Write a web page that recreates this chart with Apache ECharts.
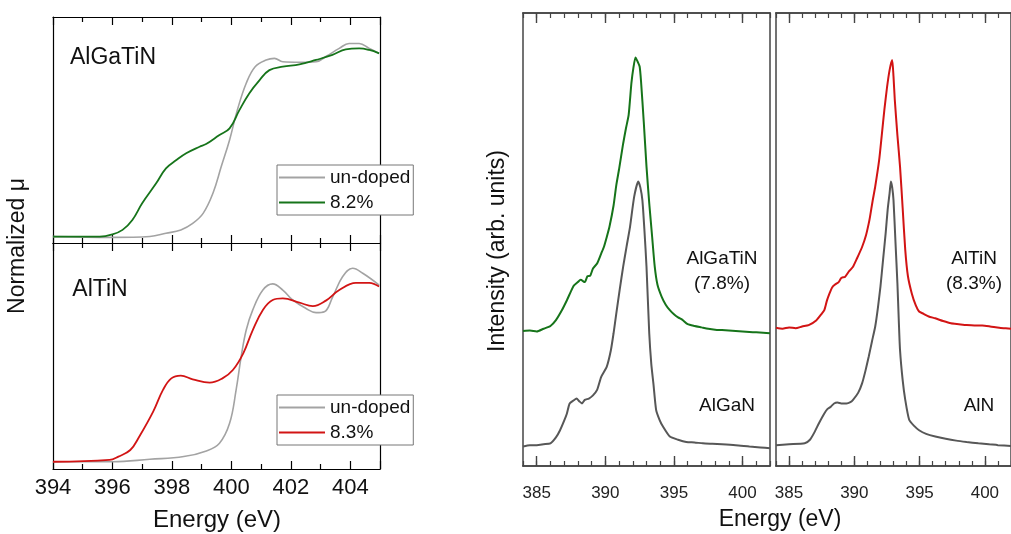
<!DOCTYPE html>
<html>
<head>
<meta charset="utf-8">
<script src="https://cdn.jsdelivr.net/npm/echarts@6/dist/echarts.min.js"></script>
<style>html,body{margin:0;padding:0;background:#fff}#c{width:1011px;height:534px}</style>
</head>
<body>
<div id="c"></div>
<script>
// ---------- XANES (left panels) ----------
var xTicksLeft = [394, 396, 398, 400, 402, 404];

var gaUndopedE  = [394.0,396.0,397.26,397.8,398.3,398.7,399.05,399.38,399.66,399.94,400.2,400.5,400.8,401.17,401.45,401.73,402.29,402.85,403.18,403.63,403.96,404.3,404.64,404.97];
var gaUndopedMu = [2.8,2.5,2.9,4.3,5.8,8.7,13.1,22.0,33.8,45.6,58.8,70.7,78.0,81.0,81.7,80.2,80.0,80.2,82.5,86.1,88.3,88.3,86.1,83.9];
var gaDopedE    = [394.0,395.57,396.0,396.34,396.67,397.0,397.47,397.8,398.15,398.48,398.93,399.15,399.6,399.94,400.27,400.6,400.95,401.28,401.73,402.29,402.85,403.4,403.85,404.3,404.64,404.97];
var gaDopedMu   = [2.8,2.8,3.8,5.8,10.2,17.6,26.4,33.0,36.7,39.7,42.6,43.8,47.8,50.7,58.8,66.2,72.1,76.5,78.0,79.0,81.0,83.2,85.7,86.1,85.4,83.9];

var tiUndopedE  = [394.0,396.0,397.26,398.4,399.16,399.6,399.94,400.16,400.33,400.5,400.72,401.06,401.39,401.73,402.06,402.5,402.85,403.13,403.41,403.74,404.08,404.42,404.97];
var tiUndopedMu = [3.2,3.2,4.3,5.5,8.0,11.4,20.2,35.0,49.7,61.5,70.4,79.2,81.9,79.2,74.8,71.1,69.2,69.6,76.2,85.1,88.8,86.6,81.4];
var tiDopedE    = [394.0,395.9,396.2,396.6,396.9,397.37,397.7,397.98,398.3,398.7,399.27,399.7,400.05,400.4,400.72,401.06,401.39,401.73,402.29,402.74,403.18,403.63,404.19,404.64,404.97];
var tiDopedMu   = [3.2,4.0,5.5,8.4,14.3,25.4,35.0,40.1,41.3,39.7,38.2,40.1,43.8,51.2,61.5,70.4,74.8,75.5,73.6,72.1,74.5,79.2,82.4,82.4,80.7];

// ---------- XES (right panels) ----------
var xTicksRight = [385, 390, 395, 400];
var xTickSlotsRight = [384,385,386,387,388,389,390,391,392,393,394,395,396,397,398,399,400,401,402];

var alganE = [384.0,384.5,385.0,385.5,386.0,386.4,386.7,387.0,387.2,387.4,387.7,387.9,388.1,388.3,388.5,388.8,389.1,389.4,389.7,390.1,390.4,390.6,390.8,391.05,391.3,391.55,391.8,392.1,392.4,392.55,392.7,392.85,393.0,393.2,393.35,393.5,393.7,393.95,394.2,394.7,395.3,395.9,396.5,397.1,397.8,398.5,399.5,400.5,401.3,402.0];
var alganI = [4.3,4.6,4.6,4.8,5.0,6.3,7.9,10.0,11.6,13.8,14.5,14.9,14.3,13.8,14.6,14.9,15.6,16.8,19.7,21.9,25.5,29.3,33.7,39.0,44.0,48.5,52.8,59.4,62.8,61.5,58.7,52.0,44.0,29.3,22.5,18.3,12.4,10.2,8.7,6.5,5.8,5.3,5.2,5.0,4.9,4.8,4.6,4.3,4.1,3.9];

var algatinE = [384.0,384.5,385.0,385.5,386.0,386.4,386.8,387.2,387.5,387.7,388.0,388.2,388.5,388.7,388.9,389.1,389.4,389.7,389.9,390.1,390.3,390.6,390.8,391.0,391.3,391.5,391.7,391.9,392.05,392.2,392.35,392.5,392.6,392.8,393.0,393.2,393.4,393.6,393.8,394.1,394.4,394.7,395.0,395.3,395.6,396.0,396.5,397.0,397.5,398.0,398.5,399.0,399.5,400.0,400.5,401.0,401.5,402.0];
var algatinI = [29.8,29.9,29.7,30.3,30.9,32.2,34.2,36.6,38.6,39.8,40.6,41.1,40.6,41.9,42.0,43.6,44.7,46.9,48.4,50.5,52.8,57.5,62.0,65.5,71.2,74.5,77.5,84.5,88.0,90.2,89.3,88.2,85.0,76.0,66.1,58.0,51.0,44.0,40.0,37.4,35.6,34.4,33.5,32.8,32.3,31.3,30.9,30.6,30.3,30.1,30.0,29.9,29.8,29.7,29.6,29.5,29.4,29.3];

var alnE = [384.0,385.0,386.2,386.6,386.9,387.3,387.7,387.95,388.2,388.45,388.7,389.0,389.4,389.7,389.9,390.3,390.6,390.85,391.1,391.35,391.6,391.8,392.0,392.2,392.4,392.55,392.7,392.8,392.9,393.0,393.15,393.3,393.4,393.5,393.7,393.9,394.2,394.6,394.96,395.5,396.2,397.0,397.8,398.6,399.5,400.3,401.0,402.0];
var alnI = [4.6,4.8,5.0,5.8,7.2,9.5,11.6,12.6,13.1,13.8,14.0,13.8,13.8,14.1,14.6,16.2,18.3,21.0,24.1,27.5,30.8,34.8,39.6,45.5,51.4,56.5,60.2,62.8,61.5,58.7,49.5,40.3,32.5,25.6,19.0,14.6,10.2,8.8,7.9,7.1,6.5,6.0,5.6,5.3,5.0,4.8,4.6,4.4];

var altinE = [384.0,384.5,385.0,385.5,386.0,386.5,387.1,387.5,387.7,387.9,388.1,388.3,388.5,388.8,389.0,389.3,389.6,389.9,390.2,390.6,390.9,391.1,391.2,391.4,391.6,391.9,392.1,392.3,392.5,392.7,392.9,393.0,393.1,393.3,393.5,393.7,393.9,394.1,394.4,394.7,394.96,395.3,395.7,396.2,396.8,397.4,398.0,398.6,399.2,399.8,400.4,401.1,401.6,402.0];
var altinI = [30.5,30.3,30.6,30.4,30.8,31.1,32.2,33.6,34.4,36.5,38.1,39.4,40.0,40.6,41.5,41.8,43.0,44.0,45.8,48.4,51.0,53.5,55.0,58.5,61.7,67.5,73.0,78.6,83.5,87.4,89.6,86.0,80.8,73.0,66.1,57.0,47.7,42.0,38.1,35.5,34.1,33.6,33.0,32.6,32.0,31.5,31.3,31.1,31.0,31.0,30.8,30.5,30.4,30.3];

function pairs(a, b) { return a.map(function (v, i) { return [v, b[i]]; }); }

var FONT = '"Liberation Sans", Arial, sans-serif';
var GRAY_L = '#a3a3a3', GREEN = '#16741a', RED = '#d21414', GRAY_R = '#575757', FRAME_R = '#444';

var grids = [
  { left: 53, top: 17, width: 327, height: 226 },
  { left: 53, top: 243, width: 327, height: 226 },
  { left: 523, top: 13, width: 247, height: 453 },
  { left: 776, top: 13, width: 247, height: 453 }
];

function leftX(grid, pos, labels) {
  return {
    type: 'value', gridIndex: grid, position: pos, min: 394, max: 405, interval: 2,
    axisLine: { show: true, onZero: false, lineStyle: { color: '#000', width: 1.2 } },
    axisTick: { show: true, inside: true, length: 8, lineStyle: { color: '#000', width: 1.2 } },
    minorTick: { show: true, splitNumber: 2, length: 5, lineStyle: { color: '#000', width: 1.2 } },
    axisLabel: { show: labels, fontFamily: FONT, fontSize: 22, color: '#111', margin: 8 },
    splitLine: { show: false }, minorSplitLine: { show: false }
  };
}
function rightXMinor(grid, pos) {
  return {
    type: 'value', gridIndex: grid, position: pos, min: 384, max: 402, interval: 1,
    axisLine: { show: true, onZero: false, lineStyle: { color: FRAME_R, width: 1.5 } },
    axisTick: { show: true, inside: true, length: 5, lineStyle: { color: FRAME_R, width: 1.2 } },
    axisLabel: { show: false }, splitLine: { show: false }
  };
}
function isMajor(i, v) { return xTicksRight.indexOf(Number(v)) >= 0; }
function rightXMajor(grid, pos, labels) {
  return {
    type: 'category', gridIndex: grid, position: pos, boundaryGap: false,
    data: xTickSlotsRight.map(String),
    axisLine: { show: true, onZero: false, lineStyle: { color: FRAME_R, width: 1.5 } },
    axisTick: { show: true, inside: true, length: 10, interval: isMajor, lineStyle: { color: FRAME_R, width: 1.4 } },
    axisLabel: { show: labels, interval: isMajor, fontFamily: FONT, fontSize: 17, color: '#222', margin: 19 },
    splitLine: { show: false }
  };
}
function yAx(grid, pos, color) {
  return {
    type: 'value', gridIndex: grid, position: pos, min: 0, max: 100,
    axisLine: { show: true, onZero: false, lineStyle: { color: color, width: color === '#000' ? 1.2 : 1.5 } },
    axisTick: { show: false }, axisLabel: { show: false }, splitLine: { show: false }
  };
}

var xAxes = [
  leftX(0, 'bottom', false), leftX(0, 'top', false),
  leftX(1, 'bottom', true), leftX(1, 'top', false),
  rightXMinor(2, 'bottom'), rightXMajor(2, 'bottom', true), rightXMinor(2, 'top'), rightXMajor(2, 'top', false),
  rightXMinor(3, 'bottom'), rightXMajor(3, 'bottom', true), rightXMinor(3, 'top'), rightXMajor(3, 'top', false)
];
var yAxes = [
  yAx(0, 'left', '#000'), yAx(0, 'right', '#000'),
  yAx(1, 'left', '#000'), yAx(1, 'right', '#000'),
  yAx(2, 'left', FRAME_R), yAx(2, 'right', FRAME_R),
  yAx(3, 'left', FRAME_R), yAx(3, 'right', FRAME_R)
];

function line(name, xi, yi, data, color, width, smooth) {
  return {
    type: 'line', name: name, xAxisIndex: xi, yAxisIndex: yi, data: data,
    showSymbol: false, symbol: 'none', smooth: smooth, color: color,
    lineStyle: { color: color, width: width }, silent: true
  };
}

var series = [
  line('un-doped', 0, 0, pairs(gaUndopedE, gaUndopedMu), GRAY_L, 1.6, 0.4),
  line('8.2%', 0, 0, pairs(gaDopedE, gaDopedMu), GREEN, 1.8, 0.4),
  line('un-doped ', 2, 2, pairs(tiUndopedE, tiUndopedMu), GRAY_L, 1.6, 0.4),
  line('8.3%', 2, 2, pairs(tiDopedE, tiDopedMu), RED, 1.8, 0.4),
  line('AlGaN', 4, 4, pairs(alganE, alganI), GRAY_R, 2, 0.2),
  line('AlGaTiN (7.8%)', 4, 4, pairs(algatinE, algatinI), GREEN, 2, 0.2),
  line('AlN', 8, 6, pairs(alnE, alnI), GRAY_R, 2, 0.2),
  line('AlTiN (8.3%)', 8, 6, pairs(altinE, altinI), RED, 2, 0.2)
];

function legendBox(top, names) {
  return {
    show: true, orient: 'vertical', left: 277, top: top, data: names,
    icon: 'rect', itemWidth: 46, itemHeight: 2, itemGap: 6,
    padding: [3, 3, 3, 2], borderColor: '#777', borderWidth: 1, backgroundColor: '#fff',
    formatter: function (n) { return n.trim(); },
    textStyle: { fontFamily: FONT, fontSize: 19, color: '#111', lineHeight: 19 },
    selectedMode: false
  };
}

function txt(x, y, s, size, rot) {
  return {
    type: 'text', x: x, y: y, rotation: rot || 0, silent: true,
    style: { text: s, fontFamily: FONT, fontSize: size, fill: '#111', align: 'center', verticalAlign: 'middle' }
  };
}

var chart = echarts.init(document.getElementById('c'), null, { renderer: 'canvas' });
chart.setOption({
  animation: false,
  backgroundColor: '#fff',
  grid: grids,
  xAxis: xAxes,
  yAxis: yAxes,
  legend: [legendBox(165, ['un-doped', '8.2%']), legendBox(395, ['un-doped ', '8.3%'])],
  series: series,
  graphic: [
    txt(113, 58, 'AlGaTiN', 23),
    txt(100, 290, 'AlTiN', 23),
    txt(18, 246, 'Normalized \u03bc', 23, Math.PI / 2),
    txt(217, 520, 'Energy (eV)', 24),
    txt(498, 251, 'Intensity (arb. units)', 23, Math.PI / 2),
    txt(780, 520, 'Energy (eV)', 23),
    txt(722, 259, 'AlGaTiN', 19),
    txt(722, 284, '(7.8%)', 19),
    txt(727, 406, 'AlGaN', 19),
    txt(974, 259, 'AlTiN', 19),
    txt(974, 284, '(8.3%)', 19),
    txt(979, 406, 'AlN', 19)
  ]
});
</script>
</body>
</html>
